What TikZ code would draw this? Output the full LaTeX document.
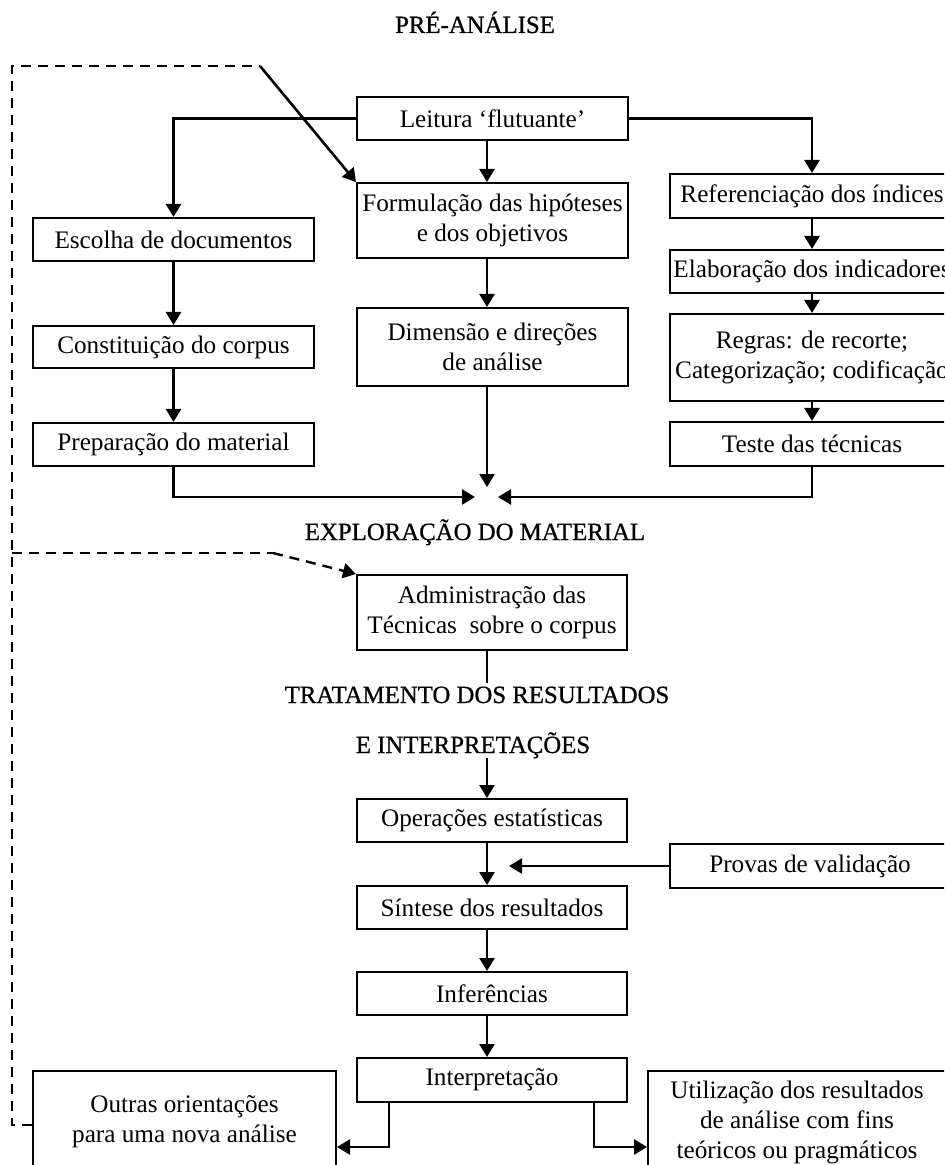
\documentclass[tikz,border=0pt]{standalone}
\usepackage{fontspec}
\setmainfont{Liberation Serif}
\newfontfamily\hdfont{Liberation Serif}[FakeBold=0.8]
\usetikzlibrary{arrows.meta,calc}
\begin{document}
\begin{tikzpicture}[x=0.5pt,y=-0.5pt,
  bx/.style={draw, line width=1pt, inner sep=0pt, align=center, font=\fontsize{12.6}{15}\selectfont},
  conn/.style={line width=1.3pt, -{Triangle[length=6.5pt,width=7.5pt]}},
  plainln/.style={line width=1.3pt},
  dsh/.style={line width=1.2pt, dash pattern=on 5pt off 3.5pt},
  hd/.style={font=\hdfont\fontsize{12.4}{15}\selectfont, inner sep=0pt, anchor=base}]
\useasboundingbox (0,0) rectangle (944,1165);
\clip (0,0) rectangle (944,1165);

% headings
\node[hd] (t1) at (475,33) {PRÉ-ANÁLISE};
\node[hd] (t2) at (475,540) {EXPLORAÇÃO DO MATERIAL};
\node[hd] (t3) at (477,703) {TRATAMENTO DOS RESULTADOS};
\node[hd] (t4) at (473,753) {E INTERPRETAÇÕES};

% middle column
\node[bx, minimum width=135.5pt, minimum height=21.5pt] (lei) at (492.5,118.5) {Leitura ‘flutuante’};
\node[bx, minimum width=135.5pt, minimum height=37.5pt] (form) at (492.5,220.5) {Formulação das hipóteses\\e dos objetivos};
\node[bx, minimum width=135.5pt, minimum height=39pt] (dim) at (492.5,347) {Dimensão e direções\\de análise};

% left column
\node[bx, minimum width=140.5pt, minimum height=21.5pt] (esc) at (173.5,239.5) {Escolha de documentos};
\node[bx, minimum width=140.5pt, minimum height=21pt] (con) at (173.5,347) {Constituição do corpus};
\node[bx, minimum width=140.5pt, minimum height=21.5pt] (prep) at (173.5,444.5) {Preparação do material};

% right column
\node[bx, minimum width=142pt, minimum height=22pt] (ref) at (812,196) {Referenciação dos índices};
\node[bx, minimum width=142pt, minimum height=21.5pt] (ela) at (812,271.5) {Elaboração dos indicadores};
\node[bx, minimum width=142pt, minimum height=43.5pt] (reg) at (812,357.5) {Regras: de recorte;\\Categorização; codificação};
\node[bx, minimum width=142pt, minimum height=22pt] (tes) at (812,444) {Teste das técnicas};

% lower part
\node[bx, minimum width=135pt, minimum height=37.5pt] (adm) at (492,612.5) {Administração das\\Técnicas~ sobre o corpus};
\node[bx, minimum width=135pt, minimum height=21.5pt] (ope) at (492,820.5) {Operações estatísticas};
\node[bx, minimum width=135pt, minimum height=21.5pt] (sin) at (492,907.5) {Síntese dos resultados};
\node[bx, minimum width=135pt, minimum height=21.5pt] (inf) at (492,993.5) {Inferências};
\node[bx, minimum width=135pt, minimum height=22pt] (int) at (492,1080) {Interpretação};
\node[bx, minimum width=140pt, minimum height=22pt] (pro) at (810,866) {Provas de validação};
\node[bx, minimum width=151.5pt, minimum height=51pt] (out) at (184.5,1122) {Outras orientações\\para uma nova análise};
\node[bx, minimum width=149pt, minimum height=51pt] (uti) at (797,1122) {Utilização dos resultados\\de análise com fins\\teóricos ou pragmáticos};

% helper coordinates
\coordinate (mx) at (487,0);
\coordinate (cdown) at (487,487);
\coordinate (cl) at (475,497);
\coordinate (cr) at (498,497);
\coordinate (d1) at (12,66);
\coordinate (d2) at (260,66);
\coordinate (d3) at (12,553);
\coordinate (d4) at (273,553);
\coordinate (tt) at (487,683);
\coordinate (ei) at (487,758);
\coordinate (pv) at (509,866);
\coordinate (bl) at (389,0);
\coordinate (br) at (594,0);
\coordinate (yb) at (0,1147);

% connectors, pre-analysis
\draw[conn] (lei.south -| mx) -- (form.north -| mx);
\draw[conn] (form.south -| mx) -- (dim.north -| mx);
\draw[conn] (dim.south -| mx) -- (cdown);
\draw[conn] (lei.west) -| (esc.north);
\draw[conn] (lei.east) -| (ref.north);
\draw[conn] (esc) -- (con);
\draw[conn] (con) -- (prep);
\draw[conn] (prep.south) |- (cl);
\draw[conn] (ref) -- (ela);
\draw[conn] (ela) -- (reg);
\draw[conn] (reg) -- (tes);
\draw[conn] (tes.south) |- (cr);

% feedback lines
\draw[dsh] (out.west |- 0,1125) -| (d1) -- (d2);
\draw[conn] (d2) -- (form.north west);
\draw[dsh] (d3) -- (d4);
\draw[dsh, -{Triangle[length=6.5pt,width=7.5pt]}] (d4) -- (adm.north west);

% lower connectors
\draw[plainln] (adm.south -| mx) -- (tt);
\draw[conn] (ei) -- (ope.north -| mx);
\draw[conn] (ope.south -| mx) -- (sin.north -| mx);
\draw[conn] (pro.west) -- (pv);
\draw[conn] (sin.south -| mx) -- (inf.north -| mx);
\draw[conn] (inf.south -| mx) -- (int.north -| mx);
\draw[conn] (int.south -| bl) |- (out.east |- yb);
\draw[conn] (int.south -| br) |- (uti.west |- yb);
\end{tikzpicture}
\end{document}
